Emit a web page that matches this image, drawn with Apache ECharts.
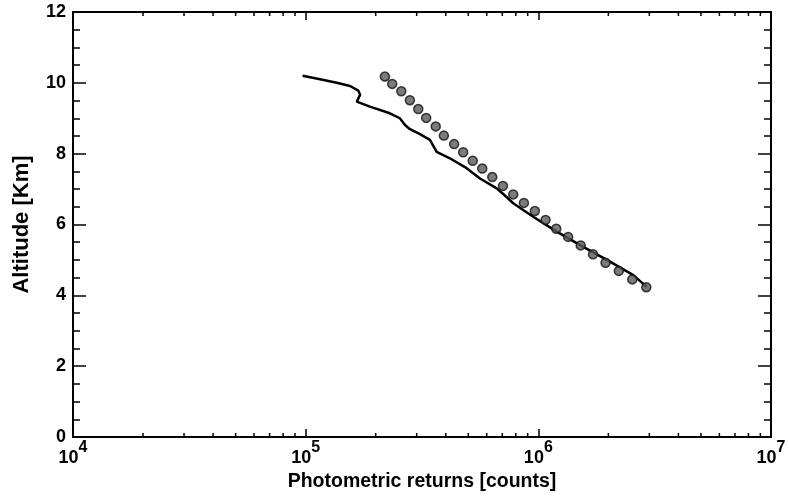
<!DOCTYPE html>
<html>
<head>
<meta charset="utf-8">
<script src="https://cdn.jsdelivr.net/npm/echarts@6/dist/echarts.min.js"></script>
<style>
  html, body { margin: 0; padding: 0; background: #fff; }
  #chart { width: 789px; height: 497px; }
</style>
</head>
<body>
<div id="chart"></div>
<script>
// Photometric returns (counts) against altitude (km)
const lineCounts = [97000, 115300, 135900, 155200, 168400, 171400, 165800, 188800, 230100, 254000,
  267300, 280800, 309900, 342000, 365600, 416600, 491900, 561400, 662100, 706600,
  780000, 950600, 1199000, 1560000, 2032000, 2559000, 2924000];
const lineAltitude = [10.20, 10.10, 10.00, 9.91, 9.78, 9.66, 9.47, 9.33, 9.14, 9.00,
  8.81, 8.69, 8.55, 8.39, 8.05, 7.87, 7.59, 7.30, 7.02, 6.86,
  6.60, 6.22, 5.80, 5.37, 4.95, 4.57, 4.24];

const dotCounts = [219000, 235500, 257600, 280500, 304800, 329600, 362200, 392600, 434500, 475300,
  522400, 574100, 633900, 704700, 779800, 866900, 966000, 1074000, 1194000, 1343000,
  1521000, 1718000, 1945000, 2218000, 2535000, 2911000];
const dotAltitude = [10.18, 9.97, 9.76, 9.51, 9.26, 9.01, 8.77, 8.51, 8.27, 8.04,
  7.80, 7.58, 7.34, 7.09, 6.85, 6.61, 6.38, 6.13, 5.88, 5.65,
  5.41, 5.16, 4.92, 4.69, 4.45, 4.23];

// Axis ranges and decade labels (base 10 with exponent)
const xMin = 1e4, xMax = 1e7;
const yMin = 0, yMax = 12, yStep = 2;
const decadeExponents = [4, 5, 6, 7];

// Minor log ticks: 2..9 within each decade
const minorX = [];
for (let e = 4; e < 7; e++) {
  for (let m = 2; m <= 9; m++) minorX.push(m * Math.pow(10, e));
}

const FONT = '"Liberation Sans", Arial, Helvetica, sans-serif';

const chart = echarts.init(document.getElementById('chart'), null, { renderer: 'canvas' });

const axisLine = { show: true, onZero: false, lineStyle: { color: '#000', width: 2 } };

chart.setOption({
  animation: false,
  backgroundColor: '#fff',
  grid: { left: 73, right: 18, top: 12, bottom: 60 },
  xAxis: [
    {
      type: 'log', logBase: 10, min: xMin, max: xMax, position: 'bottom',
      axisLine: axisLine,
      axisTick: { show: true, inside: true, length: 8, lineStyle: { color: '#000', width: 1.5 } },
      splitLine: { show: false },
      axisLabel: {
        margin: 2,
        fontFamily: FONT,
        formatter: function (v) {
          const e = Math.round(Math.log10(v));
          const label = decadeExponents.indexOf(e) >= 0 ? e : '';
          return '{b|10}{e|' + label + '}';
        },
        rich: {
          b: { fontSize: 18, fontWeight: 'bold', color: '#000', fontFamily: FONT, padding: [10, 0, 0, 0] },
          e: { fontSize: 16, fontWeight: 'bold', color: '#000', fontFamily: FONT, padding: [0, 0, 10, 0] }
        }
      },
      name: 'Photometric returns [counts]',
      nameLocation: 'middle',
      nameGap: 34,
      nameTextStyle: { fontSize: 19.5, fontWeight: 'bold', color: '#000', fontFamily: FONT }
    },
    {
      type: 'log', logBase: 10, min: xMin, max: xMax, position: 'top',
      axisLine: axisLine,
      axisTick: { show: true, inside: true, length: 8, lineStyle: { color: '#000', width: 1.5 } },
      axisLabel: { show: false },
      splitLine: { show: false }
    }
  ],
  yAxis: [
    {
      type: 'value', min: yMin, max: yMax, interval: yStep, position: 'left',
      axisLine: axisLine,
      axisTick: { show: true, inside: true, length: 13, lineStyle: { color: '#000', width: 1.5 } },
      minorTick: { show: true, splitNumber: 4, length: 7, lineStyle: { color: '#000', width: 1.5 } },
      splitLine: { show: false },
      axisLabel: { margin: 7, fontSize: 18, fontWeight: 'bold', color: '#000', fontFamily: FONT },
      name: 'Altitude [Km]',
      nameLocation: 'middle',
      nameGap: 40,
      nameTextStyle: { fontSize: 22, fontWeight: 'bold', color: '#000', fontFamily: FONT }
    },
    {
      type: 'value', min: yMin, max: yMax, interval: yStep, position: 'right',
      axisLine: axisLine,
      axisTick: { show: true, inside: true, length: 13, lineStyle: { color: '#000', width: 1.5 } },
      minorTick: { show: true, splitNumber: 4, length: 7, lineStyle: { color: '#000', width: 1.5 } },
      splitLine: { show: false },
      axisLabel: { show: false }
    }
  ],
  series: [
    {
      type: 'line',
      data: lineCounts.map((c, i) => [c, lineAltitude[i]]),
      symbol: 'none',
      lineStyle: { color: '#000', width: 2.5 },
      z: 3
    },
    {
      type: 'scatter',
      data: dotCounts.map((c, i) => [c, dotAltitude[i]]),
      symbol: 'circle',
      symbolSize: 9,
      itemStyle: { color: '#5a5a5a', borderColor: '#111', borderWidth: 1.5 },
      z: 4
    },
    {
      // Minor log ticks along the bottom and top edges
      type: 'custom',
      silent: true,
      clip: false,
      data: minorX.map(v => [v, yMin]),
      renderItem: function (params, api) {
        const v = api.value(0);
        const b = api.coord([v, yMin]);
        const t = api.coord([v, yMax]);
        const style = { stroke: '#000', lineWidth: 1.5 };
        return {
          type: 'group',
          children: [
            { type: 'line', shape: { x1: b[0], y1: b[1], x2: b[0], y2: b[1] - 4 }, style: style },
            { type: 'line', shape: { x1: t[0], y1: t[1], x2: t[0], y2: t[1] + 4 }, style: style }
          ]
        };
      },
      z: 2
    }
  ]
});
</script>
</body>
</html>
